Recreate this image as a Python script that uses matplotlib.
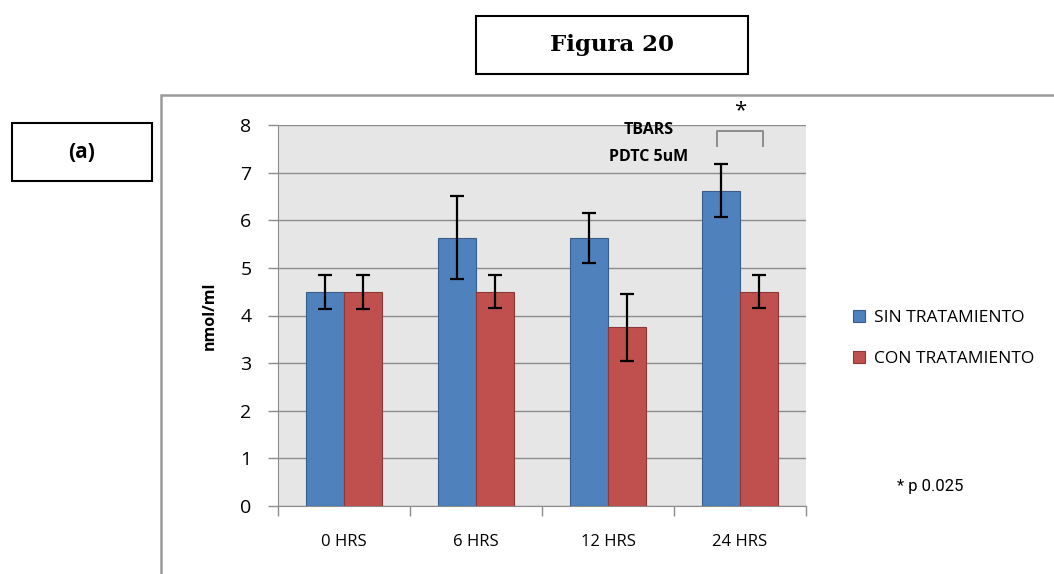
import matplotlib
matplotlib.use("Agg")
from matplotlib import pyplot as plt
from matplotlib.patches import Rectangle
import numpy as np

# datos
categorias = ["0 HRS", "6 HRS", "12 HRS", "24 HRS"]
sin_tratamiento = [4.5, 5.63, 5.63, 6.62]
sin_error = [0.36, 0.87, 0.53, 0.56]
con_tratamiento = [4.5, 4.5, 3.75, 4.5]
con_error = [0.36, 0.35, 0.71, 0.35]
y_ticks = [0, 1, 2, 3, 4, 5, 6, 7, 8]

W, H = 1054, 574
fig = plt.figure(figsize=(W / 100, H / 100), dpi=100)

def fx(px):
    return px / W

def fy(py):
    return 1 - py / H

# marco exterior del gráfico
fig.patches.append(Rectangle((fx(161), fy(600)), fx(1000), fy(95) - fy(600),
                             transform=fig.transFigure, fill=False,
                             edgecolor="#9a9a9a", lw=1.8))

# cajas de título
fig.patches.append(Rectangle((fx(476), fy(74)), fx(748) - fx(476), fy(16) - fy(74),
                             transform=fig.transFigure, fill=False,
                             edgecolor="black", lw=1.5))
fig.text(fx(612), fy(45), "Figura 20", ha="center", va="center",
         fontsize=16.5, fontweight="heavy", family="DejaVu Serif")
fig.patches.append(Rectangle((fx(12), fy(181)), fx(152) - fx(12), fy(123) - fy(181),
                             transform=fig.transFigure, fill=False,
                             edgecolor="black", lw=1.5))
fig.text(fx(82), fy(152), "(a)", ha="center", va="center",
         fontsize=15, fontweight="bold", family="Open Sans")

ax = fig.add_axes([fx(278), fy(506), fx(806) - fx(278), fy(125) - fy(506)])
ax.set_facecolor("#e6e6e6")

x = np.arange(len(categorias))
w = 0.29
err_kw = dict(ecolor="black", elinewidth=1.6, capsize=5, capthick=1.6)
ax.bar(x - w / 2, sin_tratamiento, w, yerr=sin_error, color="#4f81bd",
       edgecolor="#385d8a", lw=0.8, label="SIN TRATAMIENTO", error_kw=err_kw, zorder=3)
ax.bar(x + w / 2, con_tratamiento, w, yerr=con_error, color="#c0504d",
       edgecolor="#8c3836", lw=0.8, label="CON TRATAMIENTO", error_kw=err_kw, zorder=3)

ax.set_xlim(-0.5, len(categorias) - 0.5)
ax.set_ylim(0, 8)
ax.set_yticks(y_ticks)
ax.set_yticklabels([str(t) for t in y_ticks], fontsize=14, family="Open Sans")
ax.yaxis.grid(True, color="#8c8c8c", lw=1, zorder=0)
ax.set_axisbelow(True)

ax.set_xticks(x)
ax.set_xticklabels(categorias, fontsize=12, family="Open Sans")
ax.tick_params(axis="x", length=0, pad=20)
ax.set_xticks(np.arange(-0.5, len(categorias)), minor=True)
ax.tick_params(axis="x", which="minor", length=7, color="#8c8c8c", width=1)
ax.tick_params(axis="y", length=7, color="#8c8c8c", width=1, pad=12)

for s in ["top", "right"]:
    ax.spines[s].set_visible(False)
for s in ["left", "bottom"]:
    ax.spines[s].set_color("#8c8c8c")

ax.set_ylabel("nmol/ml", fontsize=11.5, fontweight="bold", family="Open Sans", labelpad=16)

ax.text(2.31, 7.9, "TBARS", ha="center", va="center", fontsize=11.5,
        fontweight="bold", family="Open Sans")
ax.text(2.31, 7.33, "PDTC 5uM", ha="center", va="center", fontsize=11.5,
        fontweight="bold", family="Open Sans")

# corchete de significancia
xb0, xb1 = 3 - 0.175, 3 + 0.175
ax.plot([xb0, xb0, xb1, xb1], [7.56, 7.87, 7.87, 7.56], color="#8c8c8c",
        lw=1.4, clip_on=False, solid_joinstyle="round")
ax.text(3.0, 8.3, "*", ha="center", va="center", fontsize=16,
        family="Open Sans", clip_on=False)

leg = ax.legend(loc="center left", bbox_to_anchor=(1.06, 0.44), frameon=False,
                prop={"family": "Open Sans", "size": 12.5},
                handlelength=0.7, handleheight=0.7, labelspacing=1.4, handletextpad=0.5)

fig.text(fx(897), fy(487), "* p 0.025", ha="left", va="center", fontsize=12,
         family=["Roboto", "DejaVu Sans"])

fig.savefig("out.png", dpi=100)
